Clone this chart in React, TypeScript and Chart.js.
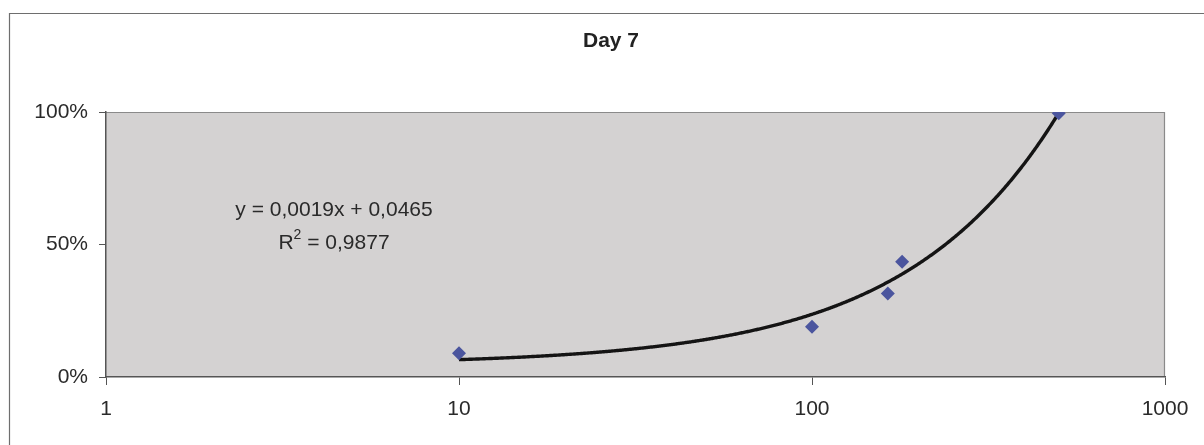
import React, { useEffect, useRef } from "react";
import { Chart, registerables } from "chart.js";

Chart.register(...registerables);

const chartTitle = "Day 7";
const xValues = [10, 100, 164, 180, 500];
const yValues = [0.09, 0.19, 0.315, 0.435, 0.995];
const xTickValues = [1, 10, 100, 1000];
const yTickValues = [0, 0.5, 1];
const trendSlope = 0.0019;
const trendIntercept = 0.0465;
const equationText = "y = 0,0019x + 0,0465";
const r2Text = " = 0,9877";

const FONT = "'Liberation Sans', Arial, sans-serif";

const framePlugin = {
  id: "framePlugin",
  beforeDraw(chart: any) {
    const { ctx, chartArea } = chart;
    ctx.save();
    // outer frame (left and top only visible)
    ctx.strokeStyle = "#6e6e6e";
    ctx.lineWidth = 1.2;
    ctx.beginPath();
    ctx.moveTo(9.5, 460);
    ctx.lineTo(9.5, 13.5);
    ctx.lineTo(1210, 13.5);
    ctx.stroke();
    // plot background
    ctx.fillStyle = "#d4d2d2";
    ctx.fillRect(chartArea.left, chartArea.top, chartArea.right - chartArea.left, chartArea.bottom - chartArea.top);
    // plot top & right border
    ctx.strokeStyle = "#8a8a8a";
    ctx.lineWidth = 1.2;
    ctx.beginPath();
    ctx.moveTo(chartArea.left, chartArea.top + 0.5);
    ctx.lineTo(chartArea.right - 0.5, chartArea.top + 0.5);
    ctx.lineTo(chartArea.right - 0.5, chartArea.bottom);
    ctx.stroke();
    // title
    ctx.fillStyle = "#222";
    ctx.font = `bold 21px ${FONT}`;
    ctx.textAlign = "center";
    ctx.textBaseline = "middle";
    ctx.fillText(chartTitle, 611, 41);
    ctx.restore();
  },
  beforeDatasetsDraw(chart: any) {
    const { ctx, scales } = chart;
    const xs = scales.x;
    const ys = scales.y;
    const xMin = Math.min(...xValues);
    const xMax = Math.max(...xValues);
    const p0 = xs.getPixelForValue(xMin);
    const p1 = xs.getPixelForValue(xMax);
    ctx.save();
    ctx.strokeStyle = "#141414";
    ctx.lineWidth = 3.4;
    ctx.lineJoin = "round";
    ctx.beginPath();
    for (let px = p0; px <= p1 + 0.001; px += 1) {
      const xv = xs.getValueForPixel(Math.min(px, p1));
      const yv = trendSlope * xv + trendIntercept;
      const py = ys.getPixelForValue(yv);
      if (px === p0) ctx.moveTo(px, py);
      else ctx.lineTo(px, py);
    }
    ctx.stroke();
    ctx.restore();
  },
  afterDraw(chart: any) {
    const { ctx } = chart;
    ctx.save();
    ctx.fillStyle = "#2a2a2a";
    ctx.font = `21px ${FONT}`;
    ctx.textBaseline = "middle";
    ctx.textAlign = "center";
    ctx.fillText(equationText, 334, 210);
    // R² line
    const rW = ctx.measureText("R").width;
    ctx.font = `14px ${FONT}`;
    const sW = ctx.measureText("2").width;
    ctx.font = `21px ${FONT}`;
    const restW = ctx.measureText(r2Text).width;
    const total = rW + sW + restW;
    let x = 334 - total / 2;
    ctx.textAlign = "left";
    ctx.fillText("R", x, 243);
    x += rW;
    ctx.font = `14px ${FONT}`;
    ctx.fillText("2", x, 235);
    x += sW;
    ctx.font = `21px ${FONT}`;
    ctx.fillText(r2Text, x, 243);
    ctx.restore();
  },
};

export default function App() {
  const canvasRef = useRef<HTMLCanvasElement | null>(null);

  useEffect(() => {
    if (!canvasRef.current) return;
    const chart = new Chart(canvasRef.current, {
      type: "scatter",
      data: {
        datasets: [
          {
            label: "Day 7",
            data: xValues.map((x, i) => ({ x, y: yValues[i] })),
            pointStyle: "rectRot",
            pointRadius: 7,
            pointHoverRadius: 7,
            backgroundColor: "#4b559e",
            borderColor: "#4b559e",
            borderWidth: 0,
          },
        ],
      },
      options: {
        animation: false,
        responsive: false,
        maintainAspectRatio: false,
        events: [],
        layout: { padding: { left: 0, right: 39, top: 112, bottom: 0 } },
        plugins: {
          legend: { display: false },
          title: { display: false },
          tooltip: { enabled: false },
        },
        scales: {
          x: {
            type: "logarithmic",
            min: 1,
            max: 1000,
            afterBuildTicks(scale: any) {
              scale.ticks = xTickValues.map((v) => ({ value: v }));
            },
            afterFit(scale: any) {
              scale.height = 68;
            },
            ticks: {
              autoSkip: false,
              maxRotation: 0,
              padding: 12,
              color: "#2a2a2a",
              font: { family: FONT, size: 21 },
              callback: (v: any) => String(v),
            },
            grid: {
              drawOnChartArea: false,
              drawTicks: true,
              tickLength: 8,
              color: "#555",
              lineWidth: 1,
            },
            border: { display: true, color: "#555", width: 1.5 },
          },
          y: {
            min: 0,
            max: 1,
            afterBuildTicks(scale: any) {
              scale.ticks = yTickValues.map((v) => ({ value: v }));
            },
            afterFit(scale: any) {
              scale.width = 106;
            },
            ticks: {
              padding: 11,
              color: "#2a2a2a",
              font: { family: FONT, size: 21 },
              callback: (v: any) => `${Math.round(Number(v) * 100)}%`,
            },
            grid: {
              drawOnChartArea: false,
              drawTicks: true,
              tickLength: 7,
              color: "#555",
              lineWidth: 1,
            },
            border: { display: true, color: "#555", width: 1.5 },
          },
        },
      },
      plugins: [framePlugin],
    });
    return () => chart.destroy();
  }, []);

  return (
    <div style={{ position: "absolute", left: 0, top: 0, width: 1204, height: 445, background: "#fff" }}>
      <canvas ref={canvasRef} width={1204} height={445} style={{ width: 1204, height: 445, display: "block" }} />
    </div>
  );
}
